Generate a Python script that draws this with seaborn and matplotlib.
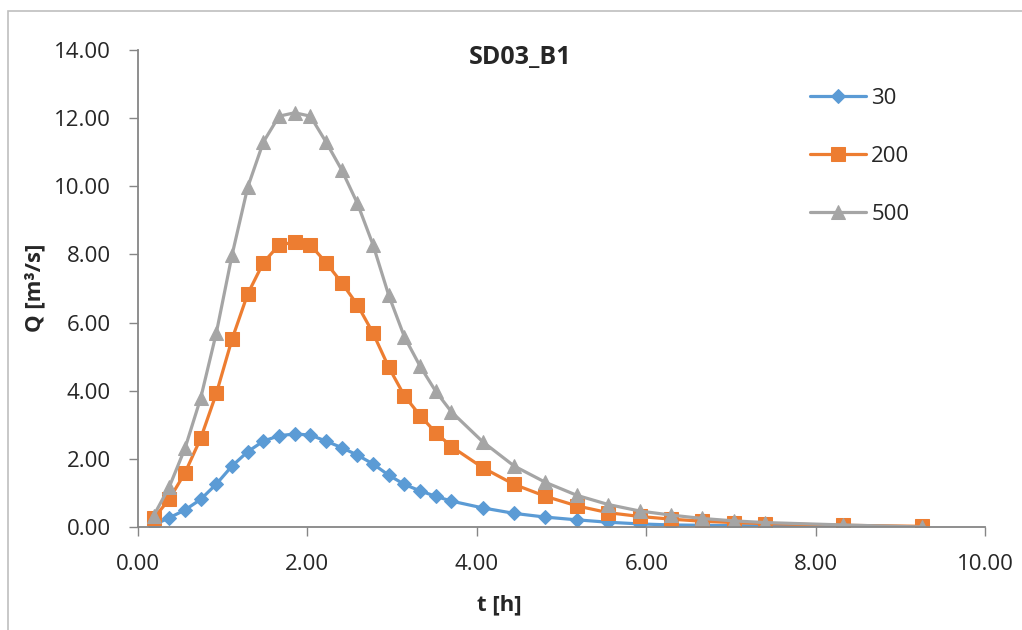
import matplotlib
matplotlib.use('Agg')
import matplotlib.pyplot as plt
import seaborn as sns
import pandas as pd
from matplotlib.patches import Rectangle

# time steps [h]
t = [0.185, 0.37, 0.555, 0.74, 0.925, 1.11, 1.295, 1.48, 1.665, 1.85,
     2.035, 2.22, 2.405, 2.59, 2.775, 2.96, 3.145, 3.33, 3.515, 3.70,
     4.07, 4.44, 4.81, 5.18, 5.55, 5.92, 6.29, 6.66, 7.03, 7.40,
     8.325, 9.25]

# discharge [m3/s] per return period
q30 = [0.06, 0.27, 0.50, 0.81, 1.26, 1.79, 2.21, 2.52, 2.68, 2.73,
       2.70, 2.52, 2.33, 2.11, 1.85, 1.52, 1.25, 1.06, 0.90, 0.76,
       0.56, 0.40, 0.29, 0.21, 0.14, 0.09, 0.06, 0.05, 0.04, 0.03,
       0.01, 0.00]
q200 = [0.25, 0.82, 1.59, 2.60, 3.92, 5.51, 6.84, 7.76, 8.28, 8.36,
        8.28, 7.76, 7.17, 6.52, 5.69, 4.69, 3.85, 3.27, 2.77, 2.36,
        1.74, 1.25, 0.90, 0.62, 0.42, 0.31, 0.23, 0.17, 0.13, 0.10,
        0.05, 0.02]
q500 = [0.33, 1.18, 2.31, 3.78, 5.70, 7.98, 9.97, 11.30, 12.06, 12.16,
        12.06, 11.30, 10.48, 9.50, 8.28, 6.80, 5.58, 4.72, 3.98, 3.38,
        2.50, 1.79, 1.31, 0.93, 0.66, 0.47, 0.35, 0.25, 0.18, 0.13,
        0.06, 0.00]

series = ['30', '200', '500']
colors = ['#5B9BD5', '#ED7D31', '#A5A5A5']
markers = ['D', 's', '^']
msizes = [7.5, 10, 10]

sns.set_theme(style='white')
plt.rcParams['font.family'] = ['Open Sans', 'DejaVu Sans']
plt.rcParams['font.size'] = 16

fig = plt.figure(figsize=(10.22, 6.3), dpi=100)
ax = fig.add_axes([0.135, 0.1635, 0.829, 0.757])

for name, q, c, m, ms in zip(series, [q30, q200, q500], colors, markers, msizes):
    df = pd.DataFrame({'t': t, 'Q': q})
    sns.lineplot(data=df, x='t', y='Q', ax=ax, color=c, linewidth=2.3,
                 marker=m, markersize=ms, markeredgecolor=c, label=name)

ax.set_xlim(0, 10)
ax.set_ylim(0, 14)
ax.set_xticks(range(0, 11, 2))
ax.set_yticks(range(0, 15, 2))
ax.set_xticklabels([f'{v:.2f}' for v in range(0, 11, 2)], fontsize=16)
ax.set_yticklabels([f'{v:.2f}' for v in range(0, 15, 2)], fontsize=16)
ax.tick_params(axis='both', direction='out', length=6.5, width=1,
               color='#868686', pad=13, bottom=True, left=True)

for side in ['top', 'right']:
    ax.spines[side].set_visible(False)
for side in ['left', 'bottom']:
    ax.spines[side].set_color('#868686')
    ax.spines[side].set_linewidth(1.3)

ax.set_xlabel('t [h]', fontsize=16, fontweight='bold')
ax.set_ylabel('Q [m³/s]', fontsize=16, fontweight='bold')
ax.xaxis.set_label_coords(0.426, -0.1635)
ax.yaxis.set_label_coords(-0.1216, 0.501)
ax.xaxis.label.set_va('center')
ax.yaxis.label.set_va('center')

fig.text(0.509, 0.909, 'SD03_B1', ha='center', va='center',
         fontsize=18, fontweight='bold')

ax.legend(loc='upper left', bbox_to_anchor=(0.783, 0.939), frameon=False,
          borderaxespad=0, fontsize=16, labelspacing=1.66,
          handlelength=2.5, handletextpad=0.25)

# chart area border
fig.patches.append(Rectangle((8 / 1022, -0.1), 1.2, 1 - 11 / 630 + 0.1,
                             transform=fig.transFigure, fill=False,
                             edgecolor='#BFBFBF', linewidth=1.2))

fig.savefig('out.png', dpi=100)
